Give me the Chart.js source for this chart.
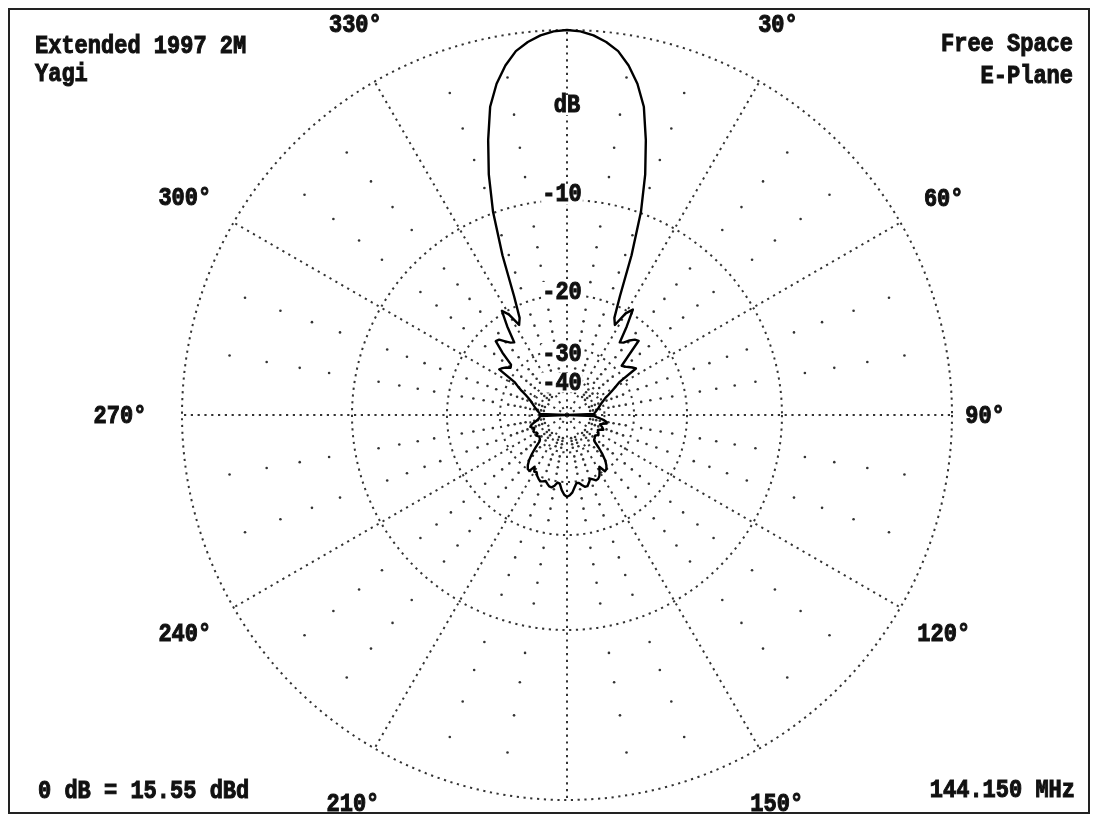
<!DOCTYPE html>
<html>
<head>
<meta charset="utf-8">
<script src="https://cdn.jsdelivr.net/npm/chart.js@4.4.0/dist/chart.umd.min.js"></script>
<style>
  body { margin: 0; background: #fff; }
  canvas { display: block; }
</style>
</head>
<body>
<canvas id="chart1" width="1096" height="821"></canvas>
<script>
// azimuth of each sample, degrees clockwise from the boom direction
const angles = [
  0, 2, 4, 6, 8, 10, 12, 14, 16, 18, 20, 22, 24, 26, 28,
  30, 32, 34, 36, 38, 40, 42, 44, 46, 48, 50, 52, 54, 56, 58,
  60, 62, 64, 66, 68, 70, 72, 74, 76, 78, 80, 82, 84, 86, 88,
  90, 92, 94, 96, 98, 100, 102, 104, 106, 108, 110, 112, 114, 116, 118,
  120, 122, 124, 126, 128, 130, 132, 134, 136, 138, 140, 142, 144, 146, 148,
  150, 152, 154, 156, 158, 160, 162, 164, 166, 168, 170, 172, 174, 176, 178,
  180, 182, 184, 186, 188, 190, 192, 194, 196, 198, 200, 202, 204, 206, 208,
  210, 212, 214, 216, 218, 220, 222, 224, 226, 228, 230, 232, 234, 236, 238,
  240, 242, 244, 246, 248, 250, 252, 254, 256, 258, 260, 262, 264, 266, 268,
  270, 272, 274, 276, 278, 280, 282, 284, 286, 288, 290, 292, 294, 296, 298,
  300, 302, 304, 306, 308, 310, 312, 314, 316, 318, 320, 322, 324, 326, 328,
  330, 332, 334, 336, 338, 340, 342, 344, 346, 348, 350, 352, 354, 356, 358
];

// relative gain in dB (-99 = deep null)
const gainDb = [
  0, -0.05, -0.2, -0.45, -0.8, -1.4, -2.2, -3.3, -5.1, -7.2, -9.9, -13.8, -18.6, -21.8, -22.8,
  -20.4, -19.4, -22.0, -25.0, -24.6, -23.6, -22.9, -22.6, -25.8, -28.4, -28.0, -27.4, -26.8, -26.3, -31.5,
  -33.2, -34.8, -36.4, -38.0, -39.0, -40.0, -40.8, -41.5, -42.2, -42.8, -43.4, -44.0, -44.6, -45.2, -45.6,
  -99, -45.6, -44.0, -42.0, -40.0, -38.8, -38.6, -40.5, -41.5, -40.5, -39.8, -39.2, -40.5, -41.5, -41.0,
  -40.5, -40.2, -40.6, -41.2, -41.0, -40.6, -40.4, -39.5, -36.5, -34.0, -32.0, -30.8, -30.0, -29.8, -31.6,
  -30.5, -29.5, -29.0, -28.9, -29.4, -29.8, -29.0, -28.3, -28.3, -28.9, -29.5, -29.6, -28.6, -27.5, -26.9,
  -26.6, -27.0, -28.0, -29.5, -29.7, -28.8, -28.3, -28.4, -28.9, -29.4, -29.1, -28.9, -29.3, -29.8, -30.6,
  -30.4, -31.6, -29.9, -30.1, -30.9, -32.2, -34.2, -36.8, -39.6, -40.5, -40.8, -41.2, -40.7, -40.3, -41.3,
  -41.0, -40.2, -40.0, -40.6, -41.0, -40.3, -39.5, -40.0, -41.2, -42.4, -43.5, -44.5, -45.0, -45.4, -45.7,
  -99, -45.6, -45.2, -44.6, -44.0, -43.3, -42.7, -42.0, -41.3, -40.6, -39.8, -38.9, -37.8, -36.4, -34.6,
  -33.0, -31.5, -26.6, -27.0, -27.6, -28.4, -28.0, -25.0, -22.7, -22.9, -23.8, -24.6, -25.0, -22.0, -19.6,
  -20.6, -22.8, -21.8, -18.6, -13.8, -9.9, -7.2, -5.1, -3.3, -2.2, -1.4, -0.8, -0.45, -0.2, -0.05
];

const ringDb = [-40, -30, -20, -10, 0];
const ringLabels = ['-40', '-30', '-20', '-10', 'dB'];
const minorDb = [-2, -4, -6, -8, -12, -14, -16, -18, -22, -24, -26, -28, -32, -34, -36, -38, -42, -44, -46, -48];
const degreeLabels = [30, 60, 90, 120, 150, 210, 240, 270, 300, 330];

const topLeft = ['Extended 1997 2M', 'Yagi'];
const topRight = ['Free Space', 'E-Plane'];
const bottomLeft = '0 dB = 15.55 dBd';
const bottomRight = '144.150 MHz';

// ARRL log-periodic scale: radius shrinks by 0.89 every 2 dB
const arrl = function (db) {
  return Math.pow(0.89, -db / 2);
};

const dotColor = '#333';
const inkColor = '#111';
const font = 'bold 22px "Liberation Mono", "DejaVu Sans Mono", monospace';

const drawText = function (ctx, text, x, y, align, baseline) {
  ctx.save();
  ctx.translate(x, y);
  ctx.scale(1, 1.15);
  ctx.textAlign = align;
  ctx.textBaseline = baseline;
  ctx.lineWidth = 0.9;
  ctx.strokeStyle = inkColor;
  ctx.fillText(text, 0, 0);
  ctx.strokeText(text, 0, 0);
  ctx.restore();
};

const gridDots = {
  id: 'gridDots',
  beforeDatasetsDraw(chart) {
    const scale = chart.scales.r;
    const ctx = chart.ctx;
    ctx.save();
    ctx.fillStyle = dotColor;
    angles.forEach((a, i) => {
      if (a % 10 !== 0 || a % 30 === 0) return;
      minorDb.forEach((db) => {
        const p = scale.getPointPositionForValue(i, arrl(db));
        ctx.beginPath();
        ctx.arc(p.x, p.y, 1.3, 0, Math.PI * 2);
        ctx.fill();
      });
    });
    ctx.restore();
  },
};

const labels = {
  id: 'labels',
  afterDraw(chart) {
    const scale = chart.scales.r;
    const ctx = chart.ctx;
    ctx.save();
    ctx.font = font;
    ctx.fillStyle = inkColor;

    // ring labels along the 0 degree spoke
    const shift = [6, 7, -2, -5, 76];
    ringDb.forEach((db, i) => {
      const p = scale.getPointPositionForValue(0, arrl(db));
      const y = p.y + shift[i];
      const x = ringLabels[i] === 'dB' ? p.x : p.x - 5;
      const w = ctx.measureText(ringLabels[i]).width;
      ctx.fillStyle = '#fff';
      ctx.fillRect(x - w / 2 - 1, y - 11, w + 2, 20);
      ctx.fillStyle = inkColor;
      drawText(ctx, ringLabels[i], x, y, 'center', 'middle');
    });

    // azimuth labels out past the rim: [distance, angle nudge]
    const place = {
      30: [445, -1.7], 60: [435, 0], 90: [418, 0], 120: [435, 0], 150: [441, 1.6],
      210: [443, -1.1], 240: [440, 0.3], 270: [447, 0], 300: [440, -0.3], 330: [445, 1.6],
    };
    degreeLabels.forEach((a) => {
      const d = place[a][0];
      const t = ((a + place[a][1]) * Math.PI) / 180;
      const x = scale.xCenter + d * Math.sin(t);
      const y = scale.yCenter - d * Math.cos(t) + 2;
      drawText(ctx, a + '°', x, y, 'center', 'middle');
    });

    drawText(ctx, topLeft[0], 35, 53, 'left', 'alphabetic');
    drawText(ctx, topLeft[1], 35, 81, 'left', 'alphabetic');
    drawText(ctx, topRight[0], 1073, 51, 'right', 'alphabetic');
    drawText(ctx, topRight[1], 1073, 83, 'right', 'alphabetic');
    drawText(ctx, bottomLeft, 38, 798, 'left', 'alphabetic');
    drawText(ctx, bottomRight, 1075, 797, 'right', 'alphabetic');

    ctx.strokeStyle = '#222';
    ctx.lineWidth = 2;
    ctx.strokeRect(9, 9, 1080, 804);
    ctx.restore();
  },
};

new Chart(document.getElementById('chart1'), {
  type: 'radar',
  data: {
    labels: angles,
    datasets: [
      {
        data: gainDb.map(arrl),
        borderColor: '#000',
        borderWidth: 2.4,
        borderJoinStyle: 'round',
        pointRadius: 0,
        fill: false,
        tension: 0,
      },
    ],
  },
  options: {
    responsive: false,
    animation: false,
    layout: { padding: { top: 30, bottom: 21, left: 100, right: 62 } },
    plugins: {
      legend: { display: false },
      tooltip: { enabled: false },
    },
    scales: {
      r: {
        min: 0,
        max: 1,
        ticks: { display: false },
        afterBuildTicks(s) {
          s.ticks = [{ value: 0 }].concat(ringDb.map((d) => ({ value: arrl(d) })));
        },
        grid: { circular: true, color: dotColor, lineWidth: 2 },
        border: { dash: [2.2, 4.6] },
        angleLines: {
          color: dotColor,
          lineWidth: (c) => (angles[c.index] % 30 === 0 ? 2 : 0),
          borderDash: [2.2, 4.6],
        },
        pointLabels: { display: false },
      },
    },
  },
  plugins: [gridDots, labels],
});
</script>
</body>
</html>
